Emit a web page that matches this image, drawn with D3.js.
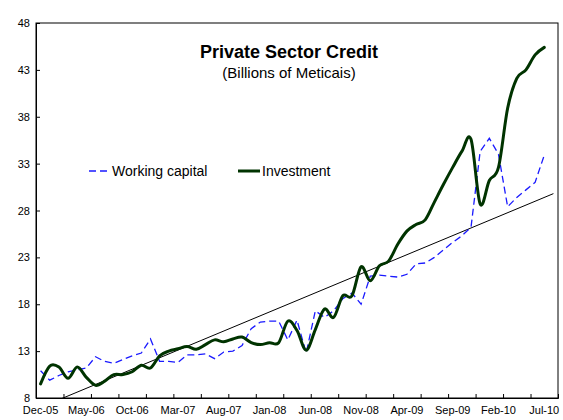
<!DOCTYPE html>
<html>
<head>
<meta charset="utf-8">
<script src="https://cdn.jsdelivr.net/npm/d3@7"></script>
<style>
  html, body { margin: 0; padding: 0; background: #fff; }
  svg { display: block; font-family: "Liberation Sans", Arial, sans-serif; }
</style>
</head>
<body>
<svg id="chart" width="563" height="420"></svg>
<script>
// ---- data ----
const months = ["Dec-05","Jan-06","Feb-06","Mar-06","Apr-06","May-06","Jun-06","Jul-06","Aug-06","Sep-06","Oct-06","Nov-06",
  "Dec-06","Jan-07","Feb-07","Mar-07","Apr-07","May-07","Jun-07","Jul-07","Aug-07","Sep-07","Oct-07","Nov-07",
  "Dec-07","Jan-08","Feb-08","Mar-08","Apr-08","May-08","Jun-08","Jul-08","Aug-08","Sep-08","Oct-08","Nov-08",
  "Dec-08","Jan-09","Feb-09","Mar-09","Apr-09","May-09","Jun-09","Jul-09","Aug-09","Sep-09","Oct-09","Nov-09",
  "Dec-09","Jan-10","Feb-10","Mar-10","Apr-10","May-10","Jun-10","Jul-10","Aug-10"];
const workingCapital = [10.9, 9.9, 10.4, 10.8, 11.0, 11.2, 12.4, 11.9, 11.7, 12.1, 12.5, 12.8,
  14.3, 11.9, 11.9, 11.8, 12.6, 12.6, 12.7, 12.2, 12.9, 13.0, 13.6, 15.4,
  16.1, 16.2, 16.2, 14.2, 16.3, 12.8, 17.3, 16.6, 17.3, 18.6, 19.2, 18.0,
  21.0, 21.1, 21.0, 20.9, 21.2, 22.3, 22.4, 23.0, 23.8, 24.6, 25.3, 26.2,
  34.3, 35.7, 34.0, 28.4, 29.4, 30.2, 31.0, 33.9];
const investment = [9.5, 11.4, 11.3, 10.1, 11.3, 10.2, 9.35, 9.8, 10.5, 10.5, 10.8, 11.5,
  11.2, 12.5, 13.0, 13.25, 13.5, 13.2, 13.7, 14.2, 14.0, 14.3, 14.5, 13.9,
  13.7, 13.9, 13.9, 16.2, 15.2, 13.1, 15.3, 17.5, 16.6, 18.9, 18.9, 22.0,
  20.5, 22.1, 22.6, 24.4, 25.8, 26.5, 27.0, 28.9, 30.8, 32.6, 34.3, 35.6,
  28.7, 31.2, 32.6, 38.9, 42.1, 43.0, 44.6, 45.4];
const trendMonths = ["Dec-05", "Aug-10"];
const trendValues = [7.0, 29.8];
const yTicks = [8, 13, 18, 23, 28, 33, 38, 43, 48];
const xLabelMonths = ["Dec-05","May-06","Oct-06","Mar-07","Aug-07","Jan-08","Jun-08","Nov-08","Apr-09","Sep-09","Feb-10","Jul-10"];
const seriesNames = ["Working capital", "Investment"];
const title = "Private Sector Credit";
const subtitle = "(Billions of Meticais)";

// ---- layout ----
const L = 36, R = 558, T = 23, B = 398;
const svg = d3.select("#chart");

const x = d3.scaleBand().domain(months).range([L, R]).paddingInner(0).paddingOuter(0);
const bw = x.bandwidth();
const xc = m => x(m) + bw / 2;
const xIdx = d3.scaleLinear().domain([0, months.length]).range([L, R]);
const y = d3.scaleLinear().domain([8, 48]).range([B, T]);

svg.append("defs").append("clipPath").attr("id", "plotclip")
  .append("rect").attr("x", L).attr("y", T).attr("width", R - L).attr("height", B - T);

// frame
svg.append("rect").attr("x", L).attr("y", T).attr("width", R - L).attr("height", B - T)
  .attr("fill", "none").attr("stroke", "#000").attr("stroke-width", 1);

// y axis
const yAxis = svg.append("g").attr("transform", `translate(${L},0)`)
  .call(d3.axisLeft(y).tickValues(yTicks).tickSize(-4).tickPadding(6).tickFormat(d3.format("d")));
yAxis.select(".domain").attr("stroke", "#000");
yAxis.selectAll("text").attr("font-size", 11).attr("fill", "#000").attr("font-family", "Liberation Sans, Arial, sans-serif");

// x tick marks every 3 months
const tickIdx = d3.range(3, months.length, 3);
const xTickAxis = svg.append("g").attr("transform", `translate(0,${B})`)
  .call(d3.axisBottom(xIdx).tickValues(tickIdx).tickSize(-4).tickFormat(""));
xTickAxis.select(".domain").attr("stroke", "#000");

// x labels
const xLab = svg.append("g").attr("transform", `translate(0,${B})`)
  .call(d3.axisBottom(x).tickValues(xLabelMonths).tickSize(0).tickPadding(8));
xLab.select(".domain").remove();
xLab.selectAll("text").attr("font-size", 11).attr("fill", "#000").attr("font-family", "Liberation Sans, Arial, sans-serif");

const plot = svg.append("g").attr("clip-path", "url(#plotclip)");

// trend line
const trendLine = d3.line().x(d => xc(d[0])).y(d => y(d[1]));
plot.append("path").datum(trendMonths.map((m, i) => [m, trendValues[i]]))
  .attr("d", trendLine).attr("fill", "none").attr("stroke", "#000").attr("stroke-width", 1);

// working capital (dashed, straight)
const wcLine = d3.line().x((d, i) => xc(months[i])).y(d => y(d));
plot.append("path").datum(workingCapital).attr("d", wcLine)
  .attr("fill", "none").attr("stroke", "#1a1aff").attr("stroke-width", 1.3)
  .attr("stroke-dasharray", "7,4");

// investment (smoothed)
const invLine = d3.line().x((d, i) => xc(months[i])).y(d => y(d)).curve(d3.curveCardinal.tension(0));
plot.append("path").datum(investment).attr("d", invLine)
  .attr("fill", "none").attr("stroke", "#003300").attr("stroke-width", 3)
  .attr("stroke-linejoin", "round").attr("stroke-linecap", "round");

// title
svg.append("text").attr("x", 289).attr("y", 58).attr("text-anchor", "middle")
  .attr("font-size", 18).attr("font-weight", "bold").attr("fill", "#000").text(title);
svg.append("text").attr("x", 289).attr("y", 78).attr("text-anchor", "middle")
  .attr("font-size", 15).attr("fill", "#000").text(subtitle);

// legend
const leg = svg.append("g");
leg.append("line").attr("x1", 89).attr("x2", 110).attr("y1", 171).attr("y2", 171)
  .attr("stroke", "#1a1aff").attr("stroke-width", 1.3).attr("stroke-dasharray", "7,4");
leg.append("text").attr("x", 112).attr("y", 176).attr("font-size", 14).attr("fill", "#000").text(seriesNames[0]);
leg.append("line").attr("x1", 238).attr("x2", 260).attr("y1", 171).attr("y2", 171)
  .attr("stroke", "#003300").attr("stroke-width", 3);
leg.append("text").attr("x", 262).attr("y", 176).attr("font-size", 14).attr("fill", "#000").text(seriesNames[1]);
</script>
</body>
</html>
